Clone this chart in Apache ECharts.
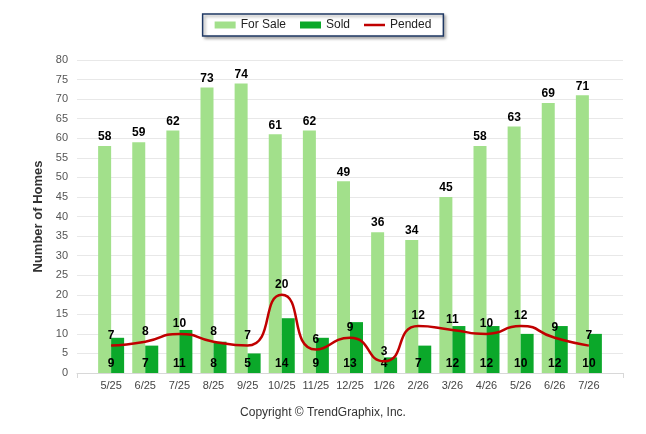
<!DOCTYPE html>
<html>
<head>
<meta charset="utf-8">
<script src="https://cdn.jsdelivr.net/npm/echarts@6/dist/echarts.min.js"></script>
<style>
  html, body { margin: 0; padding: 0; background: #fff; }
  #chart { width: 646px; height: 434px; }
</style>
</head>
<body>
<div id="chart"></div>
<script>
// months shown on the x axis
var months = ["5/25", "6/25", "7/25", "8/25", "9/25", "10/25", "11/25", "12/25",
  "1/26", "2/26", "3/26", "4/26", "5/26", "6/26", "7/26"];
var forSale = [58, 59, 62, 73, 74, 61, 62, 49, 36, 34, 45, 58, 63, 69, 71];
var sold = [9, 7, 11, 8, 5, 14, 9, 13, 4, 7, 12, 12, 10, 12, 10];
var pended = [7, 8, 10, 8, 7, 20, 6, 9, 3, 12, 11, 10, 12, 9, 7];

// one empty slot on each side, so the axis runs past the first and last month
function pad(arr, blank) {
  return [blank].concat(arr, [blank]);
}

var myChart = echarts.init(document.getElementById("chart"));

var labelFont = {
  color: "#000",
  fontWeight: "bold",
  fontSize: 12,
  fontFamily: "Liberation Sans, Arial, sans-serif",
};

var option = {
  animation: false,
  textStyle: { fontFamily: "Liberation Sans, Arial, sans-serif" },
  title: {
    text: "Copyright \u00a9 TrendGraphix, Inc.",
    left: "center",
    top: 402,
    textStyle: { fontSize: 12, fontWeight: "normal", color: "#333" },
  },
  legend: {
    left: "center",
    top: 14,
    padding: [5, 12],
    itemWidth: 21,
    itemHeight: 7,
    itemGap: 14,
    backgroundColor: "#fff",
    borderColor: "#1f3864",
    borderWidth: 1.5,
    shadowColor: "rgba(0,0,0,0.35)",
    shadowBlur: 3,
    shadowOffsetX: 2,
    shadowOffsetY: 2,
    textStyle: { fontSize: 12, color: "#222" },
    data: [
      { name: "For Sale", icon: "rect" },
      { name: "Sold", icon: "rect" },
      { name: "Pended", icon: "path://M0,0L21,0L21,2.5L0,2.5Z" },
    ],
  },
  grid: { left: 77, right: 23, top: 60, bottom: 61 },
  xAxis: {
    type: "category",
    boundaryGap: false,
    data: pad(months, ""),
    axisLine: { lineStyle: { color: "#d8d8d8" } },
    axisTick: {
      show: true,
      length: 5,
      lineStyle: { color: "#d8d8d8" },
      interval: function (i) {
        return i === 0 || i === months.length + 1;
      },
    },
    axisLabel: { interval: 0, color: "#444", fontSize: 11, margin: 7 },
  },
  yAxis: {
    type: "value",
    min: 0,
    max: 80,
    interval: 5,
    name: "Number of Homes",
    nameLocation: "middle",
    nameGap: 32,
    nameTextStyle: { fontSize: 13, fontWeight: "bold", color: "#333" },
    axisLine: { show: false },
    axisTick: { show: false },
    axisLabel: { color: "#555", fontSize: 11, margin: 9 },
    splitLine: { lineStyle: { color: "#e8e8e8" } },
  },
  series: [
    {
      name: "For Sale",
      type: "bar",
      barWidth: 13,
      barGap: "0%",
      itemStyle: { color: "#a2e08b" },
      label: Object.assign({ show: true, position: "top", distance: 3 }, labelFont),
      data: pad(forSale, null),
    },
    {
      name: "Sold",
      type: "bar",
      barWidth: 13,
      barGap: "0%",
      itemStyle: { color: "#0ba82a" },
      label: Object.assign(
        { show: true, position: "insideBottom", distance: 3, offset: [-6.5, 0] },
        labelFont
      ),
      data: pad(sold, null),
    },
    {
      name: "Pended",
      type: "line",
      smooth: 0.6,
      symbol: "circle",
      symbolSize: 0.1,
      lineStyle: { color: "#c00000", width: 2.5 },
      itemStyle: { color: "#c00000" },
      label: Object.assign({ show: true, position: "top", distance: 4 }, labelFont),
      z: 5,
      data: pad(pended, null),
    },
  ],
};

myChart.setOption(option);
</script>
</body>
</html>
